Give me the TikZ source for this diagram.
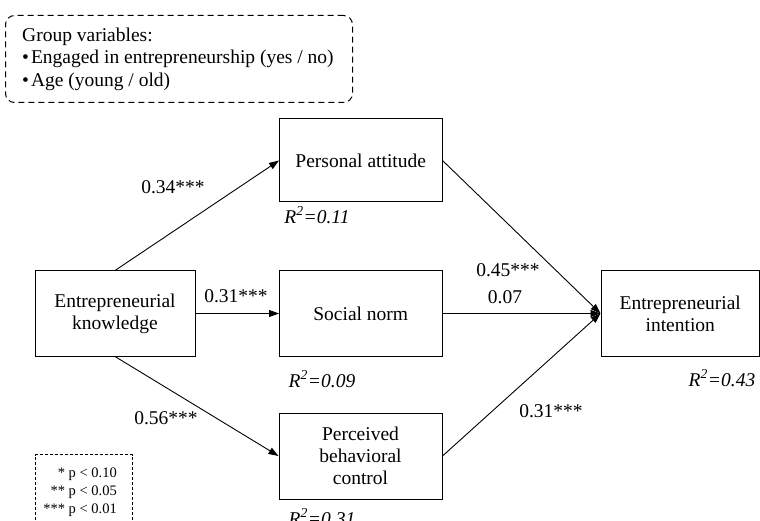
\documentclass[tikz,border=0pt]{standalone}
\usepackage{fontspec}
\setmainfont{Liberation Serif}
\usetikzlibrary{arrows.meta}
\begin{document}
\begin{tikzpicture}[x=1pt,y=-1pt,
  box/.style={draw, line width=1pt, inner sep=0pt, align=center, font=\fontsize{19.5}{22}\selectfont},
  lbl/.style={inner sep=0pt, font=\fontsize{19.5}{22}\selectfont},
  rsq/.style={inner sep=0pt, font=\fontsize{19.5}{22}\selectfont\itshape},
  arr/.style={line width=0.9pt, -{Triangle[length=10pt,width=7pt]}},
  legtxt/.style={inner sep=0pt, font=\fontsize{14.5}{18}\selectfont},
  grptxt/.style={inner sep=0pt, align=left, font=\fontsize{19.5}{22.5}\selectfont}]
\useasboundingbox (0,0) rectangle (760,521);

% group variables box
\node[draw, dashed, dash pattern=on 6pt off 4pt, line width=1pt, rounded corners=9pt,
      minimum width=347, minimum height=87, anchor=north west, inner sep=0pt] (grp) at (5,15) {};
\node[grptxt, anchor=west] (grptext) at (22,59)
  {Group variables:\\ \textbullet\hspace{2pt}Engaged in entrepreneurship (yes / no)\\ \textbullet\hspace{2pt}Age (young / old)};

% construct boxes
\node[box, minimum width=162.5, minimum height=83] (pa) at (360.75,160.5) {Personal attitude};
\node[box, minimum width=160, minimum height=85] (ek) at (115,313.5) {Entrepreneurial\\knowledge};
\node[box, minimum width=162.5, minimum height=85] (sn) at (360.75,313.5) {Social norm};
\node[box, minimum width=163, minimum height=86] (pbc) at (360.5,456) {Perceived\\behavioral\\control};
\node[box, minimum width=158.5, minimum height=85] (ei) at (680.25,313.5) {Entrepreneurial\\intention};

% paths
\draw[arr] (ek.north) -- (pa.west);
\draw[arr] (ek.east) -- (sn.west);
\draw[arr] (ek.south) -- (pbc.west);
\draw[arr] (pa.east) -- (ei.west);
\draw[arr] (sn.east) -- (ei.west);
\draw[arr] (pbc.east) -- (ei.west);

% coefficients
\node[lbl] (c1) at (173,187) {0.34***};
\node[lbl] (c2) at (236,296) {0.31***};
\node[lbl] (c3) at (166,418) {0.56***};
\node[lbl] (c4) at (508,270) {0.45***};
\node[lbl] (c5) at (505,297) {0.07};
\node[lbl] (c6) at (551,411) {0.31***};

% R squared
\node[rsq] (r1) at (317,215) {R\textsuperscript{2}=0.11};
\node[rsq] (r2) at (322,379) {R\textsuperscript{2}=0.09};
\node[rsq] (r3) at (322,517) {R\textsuperscript{2}=0.31};
\node[rsq] (r4) at (722,378) {R\textsuperscript{2}=0.43};

% legend
\draw[dashed, dash pattern=on 3pt off 2pt, line width=0.9pt] (35,530) -- (35,454.5) -- (132,454.5) -- (132,530);
\node[legtxt, anchor=base east] (p1) at (117,477) {* p < 0.10};
\node[legtxt, anchor=base east] (p2) at (117,495) {** p < 0.05};
\node[legtxt, anchor=base east] (p3) at (117,513) {*** p < 0.01};
\end{tikzpicture}
\end{document}
